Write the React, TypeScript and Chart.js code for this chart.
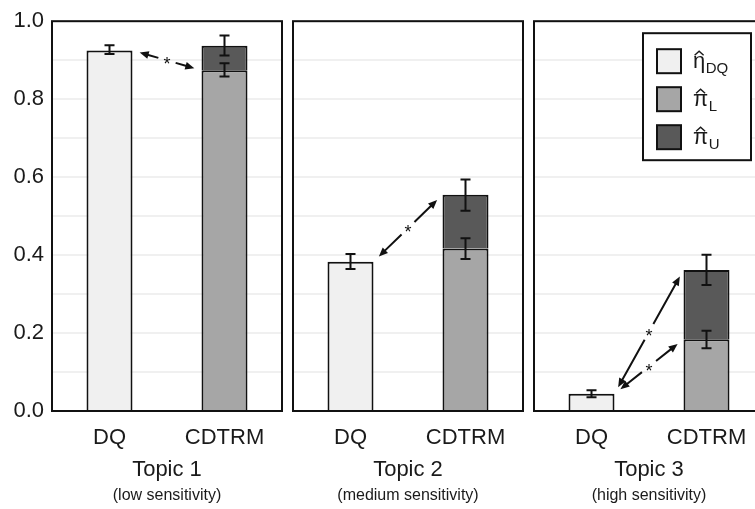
import React, { useEffect, useRef } from 'react';
import { Chart, registerables } from 'chart.js';

Chart.register(...registerables);

// ---------- data ----------
const topics = ['Topic 1', 'Topic 2', 'Topic 3'];
const sensitivities = ['(low sensitivity)', '(medium sensitivity)', '(high sensitivity)'];
const methods = ['DQ', 'CDTRM'];

const etaDQ = [0.925, 0.383, 0.044];
const etaDQLow = [0.916, 0.364, 0.035];
const etaDQHigh = [0.938, 0.403, 0.053];

const piL = [0.874, 0.417, 0.184];
const piLLow = [0.858, 0.39, 0.161];
const piLHigh = [0.892, 0.443, 0.206];

const piU = [0.063, 0.138, 0.178]; // stacked on top of piL
const piTotalLow = [0.912, 0.514, 0.323];
const piTotalHigh = [0.963, 0.594, 0.401];

const sigDQvsL = [true, false, true];
const sigDQvsU = [false, true, true];

const legendMain = ['\u03B7', '\u03C0', '\u03C0'];
const legendSub = ['DQ', 'L', 'U'];

// ---------- styles ----------
const FONT = "'Liberation Sans', Arial, 'Helvetica', sans-serif";
const TEXT = '#1a1a1a';
const INK = '#111111';
const COLORS = ['#f0f0f0', '#a6a6a6', '#595959'];

Chart.defaults.font.family = FONT;
Chart.defaults.color = TEXT;

function drawArrow(ctx: CanvasRenderingContext2D, x1: number, y1: number, x2: number, y2: number) {
  const dx = x2 - x1;
  const dy = y2 - y1;
  const len = Math.hypot(dx, dy);
  const ux = dx / len;
  const uy = dy / len;
  const px = -uy;
  const py = ux;
  const inset = 7.5;
  const sx = x1 + ux * inset;
  const sy = y1 + uy * inset;
  const ex = x2 - ux * inset;
  const ey = y2 - uy * inset;
  const mx = (x1 + x2) / 2;
  const my = (y1 + y2) / 2;
  const gap = 9;
  const head = 9;
  const hw = 3.8;
  ctx.save();
  ctx.strokeStyle = INK;
  ctx.fillStyle = INK;
  ctx.lineWidth = 2;
  ctx.beginPath();
  ctx.moveTo(sx + ux * (head - 1), sy + uy * (head - 1));
  ctx.lineTo(mx - ux * gap, my - uy * gap);
  ctx.moveTo(mx + ux * gap, my + uy * gap);
  ctx.lineTo(ex - ux * (head - 1), ey - uy * (head - 1));
  ctx.stroke();
  ctx.beginPath();
  ctx.moveTo(sx, sy);
  ctx.lineTo(sx + ux * head + px * hw, sy + uy * head + py * hw);
  ctx.lineTo(sx + ux * head - px * hw, sy + uy * head - py * hw);
  ctx.closePath();
  ctx.fill();
  ctx.beginPath();
  ctx.moveTo(ex, ey);
  ctx.lineTo(ex - ux * head + px * hw, ey - uy * head + py * hw);
  ctx.lineTo(ex - ux * head - px * hw, ey - uy * head - py * hw);
  ctx.closePath();
  ctx.fill();
  ctx.font = `18px ${FONT}`;
  ctx.textAlign = 'center';
  ctx.textBaseline = 'alphabetic';
  ctx.fillText('*', mx, my + 10);
  ctx.restore();
}

function makeConfig(i: number): any {
  const framePlugin = {
    id: 'frame',
    afterDatasetsDraw(chart: any) {
      const { ctx, chartArea } = chart;
      const { left, top, right, bottom } = chartArea;
      ctx.save();
      ctx.strokeStyle = INK;
      ctx.lineWidth = 2;
      ctx.strokeRect(left, top, right - left, bottom - top);
      ctx.restore();
    },
  };

  const errorBarPlugin = {
    id: 'errorBars',
    afterDatasetsDraw(chart: any) {
      const { ctx } = chart;
      const xs = chart.scales.x;
      const ys = chart.scales.y;
      const bars = [
        { cat: 0, lo: etaDQLow[i], hi: etaDQHigh[i] },
        { cat: 1, lo: piLLow[i], hi: piLHigh[i] },
        { cat: 1, lo: piTotalLow[i], hi: piTotalHigh[i] },
      ];
      ctx.save();
      ctx.strokeStyle = INK;
      ctx.lineWidth = 2;
      bars.forEach((b) => {
        const x = xs.getPixelForValue(b.cat);
        const yl = ys.getPixelForValue(b.lo);
        const yh = ys.getPixelForValue(b.hi);
        ctx.beginPath();
        ctx.moveTo(x, yl);
        ctx.lineTo(x, yh);
        ctx.moveTo(x - 5, yl);
        ctx.lineTo(x + 5, yl);
        ctx.moveTo(x - 5, yh);
        ctx.lineTo(x + 5, yh);
        ctx.stroke();
      });
      ctx.restore();
    },
  };

  const arrowPlugin = {
    id: 'sigArrows',
    afterDatasetsDraw(chart: any) {
      const { ctx } = chart;
      const dq: any = chart.getDatasetMeta(0).data[0];
      const x1 = dq.x + dq.width / 2;
      const y1 = dq.y;
      const targets: any[] = [];
      if (sigDQvsU[i]) targets.push(chart.getDatasetMeta(2).data[1]);
      if (sigDQvsL[i]) targets.push(chart.getDatasetMeta(1).data[1]);
      targets.forEach((el) => {
        drawArrow(ctx, x1, y1, el.x - el.width / 2, el.y);
      });
    },
  };

  const legendPlugin = {
    id: 'customLegend',
    afterDatasetsDraw(chart: any) {
      if (i !== 2) return;
      const { ctx, chartArea } = chart;
      const left = chartArea.left + 109;
      const top = chartArea.top + 12;
      const w = 108;
      const h = 127;
      ctx.save();
      ctx.fillStyle = '#ffffff';
      ctx.fillRect(left, top, w, h);
      ctx.strokeStyle = INK;
      ctx.lineWidth = 2;
      ctx.strokeRect(left, top, w, h);
      legendMain.forEach((m, k) => {
        const cy = top + 28 + k * 38;
        ctx.fillStyle = COLORS[k];
        ctx.fillRect(left + 14, cy - 12, 24, 24);
        ctx.strokeStyle = INK;
        ctx.lineWidth = 2;
        ctx.strokeRect(left + 14, cy - 12, 24, 24);
        ctx.fillStyle = TEXT;
        ctx.textAlign = 'left';
        ctx.textBaseline = 'alphabetic';
        ctx.font = `22px ${FONT}`;
        const tx = left + 50;
        const base = cy + 7;
        ctx.fillText(m, tx, base);
        const mw = ctx.measureText(m).width;
        // circumflex (hat) over the symbol
        const hc = tx + mw / 2;
        ctx.strokeStyle = TEXT;
        ctx.lineWidth = 1.4;
        ctx.lineJoin = 'miter';
        ctx.beginPath();
        ctx.moveTo(hc - 4.5, base - 13);
        ctx.lineTo(hc, base - 17);
        ctx.lineTo(hc + 4.5, base - 13);
        ctx.stroke();
        ctx.font = `15px ${FONT}`;
        ctx.fillText(legendSub[k], tx + mw + 0.5, cy + 12);
      });
      ctx.restore();
    },
  };

  return {
    type: 'bar',
    data: {
      labels: methods,
      datasets: [
        {
          label: '\u03B7\u0302DQ',
          data: [etaDQ[i], null],
          backgroundColor: COLORS[0],
        },
        {
          label: '\u03C0\u0302L',
          data: [null, piL[i]],
          backgroundColor: COLORS[1],
        },
        {
          label: '\u03C0\u0302U',
          data: [null, piU[i]],
          backgroundColor: COLORS[2],
        },
      ].map((d) => ({
        ...d,
        borderColor: INK,
        borderWidth: 2,
        categoryPercentage: 0.4,
        barPercentage: 1,
      })),
    },
    options: {
      responsive: false,
      maintainAspectRatio: false,
      animation: false,
      devicePixelRatio: 1,
      layout: { padding: { top: 19, left: 0, right: 2, bottom: 0 } },
      plugins: {
        legend: { display: false },
        tooltip: { enabled: false },
        title: {
          display: true,
          position: 'bottom',
          fullSize: false,
          text: sensitivities[i],
          color: TEXT,
          font: { size: 16, weight: 'normal', family: FONT },
          padding: { top: 0, bottom: 3.4 },
        },
      },
      scales: {
        x: {
          stacked: true,
          grid: {
            display: true,
            drawOnChartArea: false,
            drawTicks: true,
            tickLength: 13.8,
            tickColor: 'rgba(0,0,0,0)',
          },
          border: { display: false },
          ticks: {
            padding: 0,
            color: TEXT,
            font: { size: 22, family: FONT },
            maxRotation: 0,
            autoSkip: false,
          },
          title: {
            display: true,
            text: topics[i],
            color: TEXT,
            font: { size: 22, family: FONT },
            padding: { top: 5.6, bottom: 3.2 },
          },
        },
        y: {
          stacked: true,
          min: 0,
          max: 1,
          grid: { color: '#f0f0f0', lineWidth: 2, drawTicks: false },
          border: { display: false },
          ticks: {
            stepSize: 0.1,
            padding: 8,
            color: i === 0 ? TEXT : 'rgba(0,0,0,0)',
            font: { size: 22, family: FONT },
            callback: (v: any) => {
              const t = Math.round(Number(v) * 10);
              return t % 2 === 0 ? (t / 10).toFixed(1) : '';
            },
          },
          afterFit: (s: any) => {
            s.width = 52;
          },
        },
      },
    },
    plugins: [framePlugin, errorBarPlugin, arrowPlugin, legendPlugin],
  };
}

function Panel({ index }: { index: number }) {
  const ref = useRef<HTMLCanvasElement>(null);
  useEffect(() => {
    const chart = new Chart(ref.current as HTMLCanvasElement, makeConfig(index));
    return () => chart.destroy();
  }, [index]);
  return (
    <canvas
      ref={ref}
      width={284}
      height={509}
      style={{ position: 'absolute', left: index * 241, top: 0, width: 284, height: 509 }}
    />
  );
}

export default function App() {
  return (
    <div
      style={{
        position: 'absolute',
        left: 0,
        top: 0,
        width: 755,
        height: 509,
        overflow: 'hidden',
        background: '#ffffff',
      }}
    >
      {topics.map((_, i) => (
        <Panel key={i} index={i} />
      ))}
    </div>
  );
}
